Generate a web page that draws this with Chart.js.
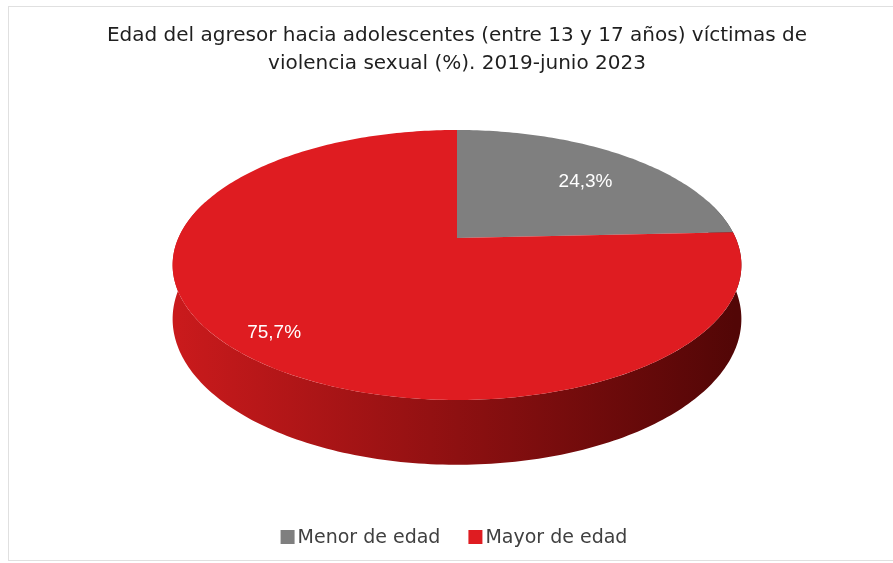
<!DOCTYPE html>
<html><head><meta charset="utf-8">
<script src="https://cdn.jsdelivr.net/npm/chart.js@4.4.1/dist/chart.umd.min.js"></script>
<style>html,body{margin:0;padding:0;background:#fff}#wrap{width:893px;height:563px;position:relative}</style>
</head><body><div id="wrap"><canvas id="c"></canvas></div>
<script>
// ---- data ----
const categories = ['Menor de edad', 'Mayor de edad'];
const values = [24.3, 75.7];
const valueLabels = ['24,3%', '75,7%'];
const titleLines = ['Edad del agresor hacia adolescentes (entre 13 y 17 años) víctimas de', 'violencia sexual (%). 2019-junio 2023'];

// ---- styles ----
const sliceColors = ['#7f7f7f', '#df1c21'];
const sideColors = [['#8a8a8a', '#3a3a3a'], ['#c91a1c', '#520606']];
const VIEW = { aspect: 2.58, persp: 0.2, depth: 0.48, labelR: [0.74, 0.83] };
const FONT = '"Liberation Sans", Arial, sans-serif';
const TFONT = '"DejaVu Sans", "Liberation Sans", sans-serif';

function project(cx, cy, R, ang, f) {
  const s = Math.sin(ang), c = Math.cos(ang);
  const k = 1 / (1 - VIEW.persp * s);
  return [cx + R * VIEW.aspect * c * k * f, cy + R * (1 + VIEW.persp) * s * k * f, k];
}

const frame = {
  id: 'frame',
  beforeDraw(chart) {
    const ctx = chart.ctx;
    ctx.save();
    ctx.fillStyle = '#fff';
    ctx.fillRect(0, 0, chart.width, chart.height);
    ctx.strokeStyle = '#e0e0e0';
    ctx.lineWidth = 1;
    ctx.strokeRect(8.5, 6.5, chart.width + 10, chart.height - 9);
    ctx.restore();
  }
};

const pie3d = {
  id: 'pie3d',
  beforeDatasetsDraw(chart) {
    const ctx = chart.ctx;
    const arcs = chart.getDatasetMeta(0).data;
    if (!arcs.length) return false;
    const p0 = arcs[0].getProps(['x', 'y', 'outerRadius'], true);
    const cx = p0.x, cy = p0.y, R = p0.outerRadius;
    const rx = R * VIEW.aspect;
    const N = 180;
    ctx.save();
    // side walls (visible front part)
    const order = arcs.map((a, i) => i).sort((a, b) => {
      const ma = arcs[a].getProps(['startAngle', 'endAngle'], true);
      const mb = arcs[b].getProps(['startAngle', 'endAngle'], true);
      return Math.sin((ma.startAngle + ma.endAngle) / 2) - Math.sin((mb.startAngle + mb.endAngle) / 2);
    });
    order.forEach(i => {
      const { startAngle, endAngle } = arcs[i].getProps(['startAngle', 'endAngle'], true);
      const a0 = Math.max(startAngle, -0.3), a1 = Math.min(endAngle, Math.PI + 0.3);
      if (a1 <= a0) return;
      const g = ctx.createLinearGradient(cx - rx, 0, cx + rx, 0);
      g.addColorStop(0, sideColors[i][0]);
      g.addColorStop(1, sideColors[i][1]);
      ctx.fillStyle = g;
      ctx.beginPath();
      const steps = Math.max(2, Math.ceil(N * (a1 - a0) / Math.PI));
      for (let s = 0; s <= steps; s++) {
        const a = a0 + (a1 - a0) * s / steps;
        const [x, y] = project(cx, cy, R, a, 1);
        s === 0 ? ctx.moveTo(x, y) : ctx.lineTo(x, y);
      }
      for (let s = steps; s >= 0; s--) {
        const a = a0 + (a1 - a0) * s / steps;
        const [x, y, k] = project(cx, cy, R, a, 1);
        ctx.lineTo(x, y + R * VIEW.depth * k);
      }
      ctx.closePath();
      ctx.fill();
    });
    // top faces
    arcs.forEach((arc, i) => {
      const { startAngle, endAngle } = arc.getProps(['startAngle', 'endAngle'], true);
      ctx.fillStyle = arc.options.backgroundColor;
      ctx.beginPath();
      ctx.moveTo(cx, cy);
      const steps = Math.max(2, Math.ceil(N * (endAngle - startAngle) / Math.PI));
      for (let s = 0; s <= steps; s++) {
        const a = startAngle + (endAngle - startAngle) * s / steps;
        const [x, y] = project(cx, cy, R, a, 1);
        ctx.lineTo(x, y);
      }
      ctx.closePath();
      ctx.fill();
    });
    // value labels
    ctx.fillStyle = '#ffffff';
    ctx.font = '19px ' + FONT;
    ctx.textAlign = 'center';
    ctx.textBaseline = 'middle';
    arcs.forEach((arc, i) => {
      const { startAngle, endAngle } = arc.getProps(['startAngle', 'endAngle'], true);
      const [x, y] = project(cx, cy, R, (startAngle + endAngle) / 2, VIEW.labelR[i]);
      ctx.fillText(valueLabels[i], x + 4, y + 4);
    });
    ctx.restore();
    return false;
  }
};

const bottomLegend = {
  id: 'bottomLegend',
  afterDraw(chart) {
    const ctx = chart.ctx;
    const ds = chart.data.datasets[0];
    ctx.save();
    ctx.font = '19px ' + TFONT;
    ctx.textBaseline = 'middle';
    ctx.textAlign = 'left';
    const box = 14, gap = 3, itemGap = 28;
    const widths = chart.data.labels.map(t => box + gap + ctx.measureText(t).width);
    const total = widths.reduce((a, b) => a + b, 0) + itemGap * (widths.length - 1);
    let x = (chart.chartArea.left + chart.chartArea.right) / 2 - 3 - total / 2;
    const y = 537;
    chart.data.labels.forEach((t, i) => {
      ctx.fillStyle = ds.backgroundColor[i];
      ctx.fillRect(x, y - box / 2, box, box);
      ctx.fillStyle = '#404040';
      ctx.fillText(t, x + box + gap, y + 1);
      x += widths[i] + itemGap;
    });
    ctx.restore();
  }
};

new Chart(document.getElementById('c'), {
  type: 'pie',
  data: {
    labels: categories,
    datasets: [{ data: values, backgroundColor: sliceColors, borderWidth: 0, hoverOffset: 0 }]
  },
  options: {
    responsive: true,
    maintainAspectRatio: false,
    animation: false,
    events: [],
    layout: { padding: { left: 100, right: 79, top: 0, bottom: 217 } },
    plugins: {
      legend: { display: false },
      tooltip: { enabled: false },
      title: {
        display: true,
        text: titleLines,
        color: '#1f1f1f',
        font: { family: TFONT, size: 20, weight: 'normal', lineHeight: 1.4 },
        padding: { top: 22, bottom: 52 }
      }
    }
  },
  plugins: [frame, pie3d, bottomLegend]
});
</script>
</body></html>
